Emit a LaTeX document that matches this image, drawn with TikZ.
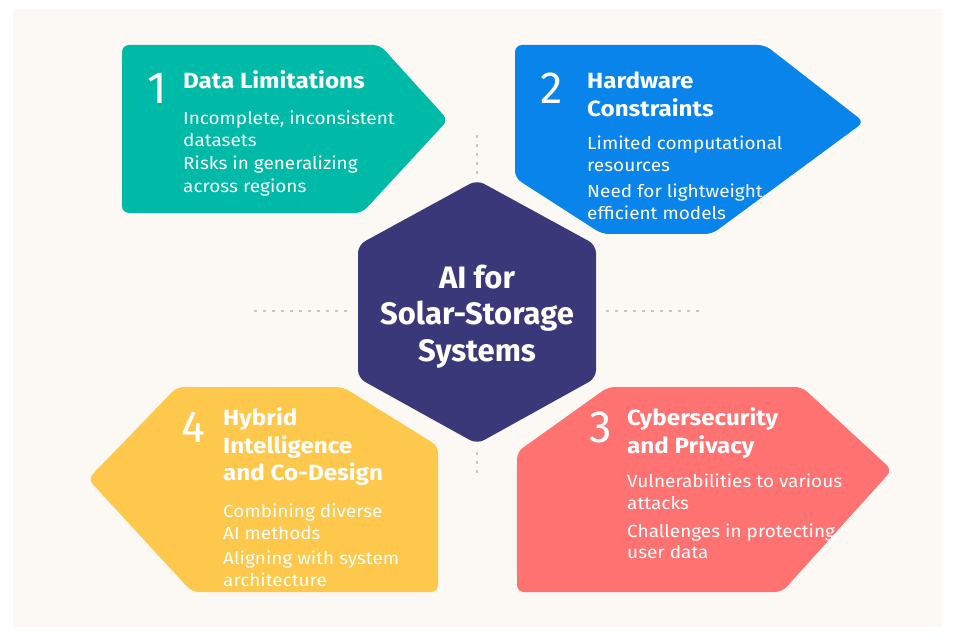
\documentclass[tikz,border=0pt]{standalone}
\usepackage{fontspec}
\setmainfont{Fira Sans}
\newfontfamily\bodyf{Fira Sans}[FakeStretch=1.085]
\newfontfamily\ttlf{Fira Sans}[FakeStretch=1.1]
\definecolor{bgc}{HTML}{FCF9F5}
\definecolor{tealc}{HTML}{00BAA8}
\definecolor{bluec}{HTML}{0884EA}
\definecolor{yellowc}{HTML}{FDC84B}
\definecolor{redc}{HTML}{FF7272}
\definecolor{navyc}{HTML}{3B3879}
\definecolor{dashc}{HTML}{C9C5C0}
\tikzset{
  panel/.style={rounded corners=7pt},
  numtxt/.style={anchor=base west,inner sep=0pt,text=white,font=\fontsize{45}{45}\selectfont},
  ttl/.style={anchor=base west,inner sep=0pt,text=white,text height=15pt,text depth=4pt,font=\ttlf\fontsize{22}{26}\selectfont\bfseries},
  body/.style={anchor=base west,inner sep=0pt,text=white,text height=13pt,text depth=4pt,font=\bodyf\fontsize{17.5}{22}\selectfont},
  ctr/.style={anchor=base,inner sep=0pt,text=white,text height=23pt,text depth=6pt,font=\fontsize{31}{36}\selectfont\bfseries},
  guide/.style={draw=dashc,line width=1.2pt,dash pattern=on 3pt off 6pt}
}
\begin{document}
\begin{tikzpicture}[x=1pt,y=-1pt]
\useasboundingbox (0,0) rectangle (960,644);
\fill[white] (0,0) rectangle (960,644);
\fill[bgc] (13,9) rectangle (942,627);
% guides
\coordinate (gt1) at (477,135); \coordinate (gt2) at (477,176);
\coordinate (gb1) at (477,452); \coordinate (gb2) at (477,478);
\coordinate (gl1) at (254,311); \coordinate (gl2) at (350,311);
\coordinate (gr1) at (606,311); \coordinate (gr2) at (702,311);
\draw[guide] (gt1) -- (gt2);
\draw[guide] (gb1) -- (gb2);
\draw[guide] (gl1) -- (gl2);
\draw[guide] (gr1) -- (gr2);
% panels
\fill[tealc,panel] (122,45) -- (380,45) -- (448,120) -- (362,213) -- (122,213) -- cycle;
\fill[bluec,panel] (515,45) -- (765,45) -- (864,122) -- (712,234) -- (602,234) -- (515,178) -- cycle;
\fill[yellowc,panel] (177,387) -- (343,387) -- (438,446) -- (438,592) -- (192,592) -- (88,479) -- cycle;
\fill[redc,panel] (608,387) -- (802,387) -- (892,470) -- (782,592) -- (517,592) -- (517,452) -- cycle;
% hexagon
\fill[navyc,rounded corners=8pt] (477,180) -- (596,245) -- (596,378) -- (477,444) -- (358,378) -- (358,245) -- cycle;
% center text
\node[ctr] (c1) at (477,288) {AI for};
\node[ctr] (c2) at (477,324) {Solar-Storage};
\node[ctr] (c3) at (477,361) {Systems};
% panel 1
\node[numtxt] (n1) at (147,104) {1};
\node[ttl] (t1) at (183,89) {Data Limitations};
\node[body] (b1a) at (183,125) {Incomplete, inconsistent};
\node[body] (b1b) at (183,147) {datasets};
\node[body] (b1c) at (183,170) {Risks in generalizing};
\node[body] (b1d) at (183,193) {across regions};
% panel 2
\node[numtxt] (n2) at (540,104) {2};
\node[ttl] (t2a) at (587,89) {Hardware};
\node[ttl] (t2b) at (587,117) {Constraints};
\node[body] (b2a) at (587,150) {Limited computational};
\node[body] (b2b) at (587,172) {resources};
\node[body] (b2c) at (587,198) {Need for lightweight,};
\node[body] (b2d) at (587,220) {efficient models};
% panel 4
\node[numtxt] (n4) at (181,442) {4};
\node[ttl] (t4a) at (223,425) {Hybrid};
\node[ttl] (t4b) at (223,453) {Intelligence};
\node[ttl] (t4c) at (223,480) {and Co-Design};
\node[body] (b4a) at (223,517) {Combining diverse};
\node[body] (b4b) at (223,539) {AI methods};
\node[body] (b4c) at (223,564) {Aligning with system};
\node[body] (b4d) at (223,586) {architecture};
% panel 3
\node[numtxt] (n3) at (589,442) {3};
\node[ttl] (t3a) at (627,425) {Cybersecurity};
\node[ttl] (t3b) at (627,453) {and Privacy};
\node[body] (b3a) at (627,487) {Vulnerabilities to various};
\node[body] (b3b) at (627,509) {attacks};
\node[body] (b3c) at (627,537) {Challenges in protecting};
\node[body] (b3d) at (627,558) {user data};
\end{tikzpicture}
\end{document}
